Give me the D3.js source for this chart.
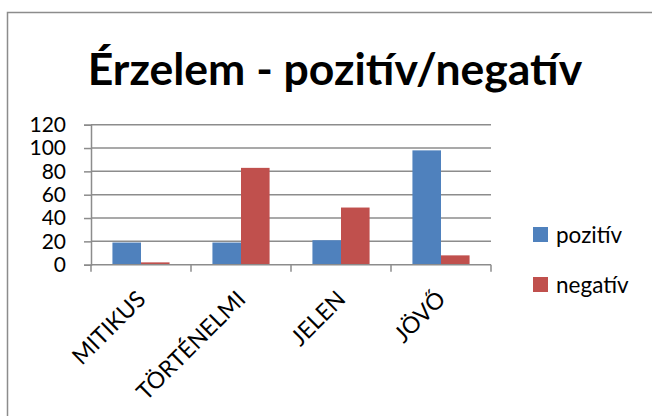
<!doctype html>
<html lang="hu">
<head>
  <meta charset="utf-8">
  <title>Érzelem - pozitív/negatív</title>
  <script src="https://d3js.org/d3.v7.min.js"></script>
  <style>
    body { margin: 0; background: #fff; }
    text { font-family: Lato, "Open Sans", sans-serif; fill: #000; }
  </style>
</head>
<body>
  <div id="chart"></div>
  <script>
    // data
    const categories = ["MITIKUS", "TÖRTÉNELMI", "JELEN", "JÖVŐ"];
    const seriesNames = ["pozitív", "negatív"];
    const pozitiv = [19, 19, 21, 98];
    const negativ = [2, 83, 49, 8];
    const yTicks = [0, 20, 40, 60, 80, 100, 120];
    const colors = ["#4F81BD", "#C0504D"];

    const seriesValues = [pozitiv, negativ];
    const rows = categories.map((c, i) => ({
      cat: c,
      vals: seriesNames.map((s, j) => ({ name: s, value: seriesValues[j][i], color: colors[j] }))
    }));

    const W = 652, H = 416;
    const plot = { left: 91, right: 491, top: 124.7, bottom: 264.7 };

    const svg = d3.select("#chart").append("svg")
      .attr("width", W)
      .attr("height", H);

    svg.append("rect").attr("width", W).attr("height", H).attr("fill", "#fff");

    // outer chart frame (only top and left edges show)
    svg.append("path")
      .attr("d", "M7.5,416 V12.5 H652")
      .attr("fill", "none")
      .attr("stroke", "#8c8c8c")
      .attr("stroke-width", 1.5);

    // title
    svg.append("text")
      .attr("x", 335)
      .attr("y", 85)
      .attr("text-anchor", "middle")
      .style("font-size", "44.5px")
      .style("font-weight", "bold")
      .text("Érzelem - pozitív/negatív");

    const x0 = d3.scaleBand()
      .domain(categories)
      .range([plot.left, plot.right])
      .paddingInner(0)
      .paddingOuter(0);

    const x1 = d3.scaleBand()
      .domain(seriesNames)
      .range([0, x0.bandwidth()])
      .paddingInner(0)
      .paddingOuter(0.75);

    const y = d3.scaleLinear()
      .domain([0, 120])
      .range([plot.bottom, plot.top]);

    // gridlines
    svg.append("g")
      .selectAll("line")
      .data(yTicks.filter(t => t > 0))
      .enter().append("line")
      .attr("x1", plot.left)
      .attr("x2", plot.right)
      .attr("y1", d => y(d))
      .attr("y2", d => y(d))
      .attr("stroke", "#8c8c8c")
      .attr("stroke-width", 1.5);

    // y axis
    const yAxis = svg.append("g")
      .attr("transform", `translate(${plot.left},0)`)
      .call(d3.axisLeft(y).tickValues(yTicks).tickSize(7).tickPadding(18));
    yAxis.select(".domain").attr("stroke", "#8c8c8c").attr("stroke-width", 1.5);
    yAxis.selectAll(".tick line").attr("stroke", "#8c8c8c").attr("stroke-width", 1.5);
    yAxis.selectAll(".tick text")
      .style("font-family", "Lato, 'Open Sans', sans-serif")
      .style("font-size", "21px")
      .attr("fill", "#000");

    // bars
    const groups = svg.append("g")
      .selectAll("g")
      .data(rows)
      .enter().append("g")
      .attr("transform", d => `translate(${x0(d.cat)},0)`);

    groups.selectAll("rect")
      .data(d => d.vals)
      .enter().append("rect")
      .attr("x", d => x1(d.name))
      .attr("width", x1.bandwidth())
      .attr("y", d => y(d.value))
      .attr("height", d => y(0) - y(d.value))
      .attr("fill", d => d.color);

    // x axis with boundary ticks
    const xAxisG = svg.append("g");
    xAxisG.append("line")
      .attr("x1", plot.left)
      .attr("x2", plot.right)
      .attr("y1", y(0))
      .attr("y2", y(0))
      .attr("stroke", "#8c8c8c")
      .attr("stroke-width", 1.5);
    const bounds = categories.map(c => x0(c)).concat([x0.range()[1]]);
    xAxisG.selectAll("line.tk")
      .data(bounds)
      .enter().append("line")
      .attr("class", "tk")
      .attr("x1", d => d)
      .attr("x2", d => d)
      .attr("y1", y(0))
      .attr("y2", y(0) + 7)
      .attr("stroke", "#8c8c8c")
      .attr("stroke-width", 1.5);

    xAxisG.selectAll("text")
      .data(categories)
      .enter().append("text")
      .attr("transform", d => `translate(${x0(d) + x0.bandwidth() / 2 + 6},${y(0) + 36}) rotate(-45)`)
      .attr("text-anchor", "end")
      .style("font-size", "23px")
      .text(d => d);

    // legend
    const legend = svg.append("g")
      .selectAll("g")
      .data(seriesNames)
      .enter().append("g")
      .attr("transform", (d, i) => `translate(533,${227 + i * 50})`);
    legend.append("rect")
      .attr("width", 15)
      .attr("height", 15)
      .attr("fill", (d, i) => colors[i]);
    legend.append("text")
      .attr("x", 23)
      .attr("y", 15.5)
      .style("font-size", "22.5px")
      .text(d => d);
  </script>
</body>
</html>
